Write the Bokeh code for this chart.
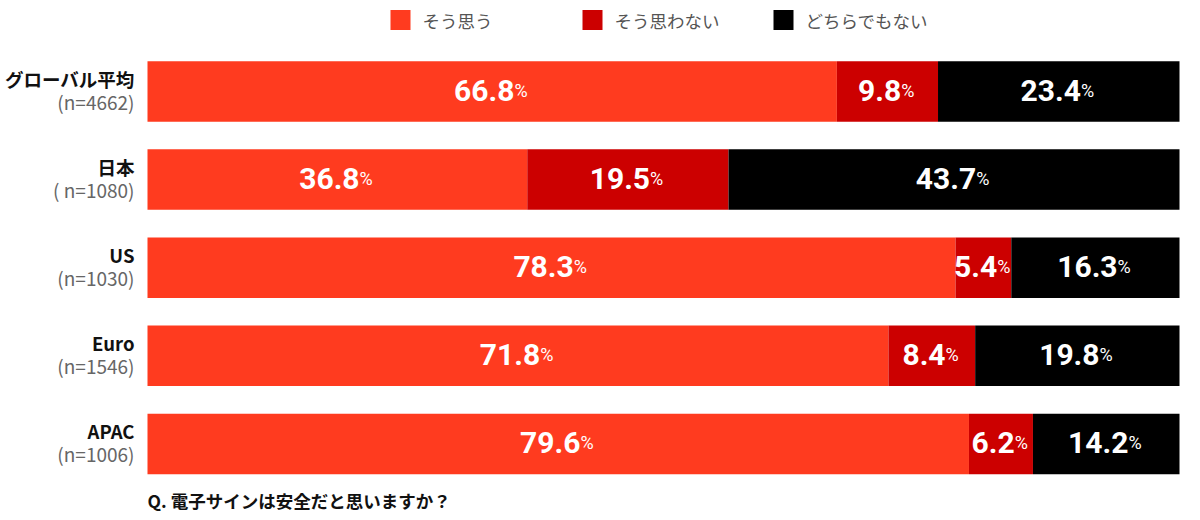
from bokeh.plotting import figure
from bokeh.models import ColumnDataSource, Range1d
from bokeh.core.properties import value
from bokeh.embed import file_html
from bokeh.resources import INLINE

# ---- data ----
regions = ["グローバル平均", "日本", "US", "Euro", "APAC"]
sample_sizes = ["(n=4662)", "( n=1080)", "(n=1030)", "(n=1546)", "(n=1006)"]
agree = [66.8, 36.8, 78.3, 71.8, 79.6]
disagree = [9.8, 19.5, 5.4, 8.4, 6.2]
neutral = [23.4, 43.7, 16.3, 19.8, 14.2]
series_names = ["そう思う", "そう思わない", "どちらでもない"]
series_colors = ["#FF3B1F", "#CC0000", "#000000"]
question = "Q. 電子サインは安全だと思いますか？"

# ---- layout helpers (pixel -> data) ----
W, H = 1200, 520
X0_PX, PX_PER_PCT = 147, 10.32
Y0_PX, PX_PER_ROW = 91, 88.1


def dx(px):
    return px / PX_PER_PCT


def dy(py):
    return py / PX_PER_ROW


def xpx(px):
    return (px - X0_PX) / PX_PER_PCT


def ypx(py):
    return (py - Y0_PX) / PX_PER_ROW


p = figure(width=W, height=H, output_backend="svg", toolbar_location=None,
           x_range=Range1d(xpx(0), xpx(W)), y_range=Range1d(ypx(H), ypx(0)),
           min_border=0)
p.axis.visible = False
p.grid.visible = False
p.outline_line_color = None
p.background_fill_color = "white"
p.border_fill_color = "white"

idx = list(range(len(regions)))
src = ColumnDataSource(dict(idx=idx, agree=agree, disagree=disagree, neutral=neutral))
p.hbar_stack(["agree", "disagree", "neutral"], y="idx", height=dy(60.5), source=src,
             color=series_colors, line_color=None)

# ---- value labels ----
NUM_FS, PCT_FS = 30, 18
PCT_W = 14


def num_width(s):
    return sum(0.26 * NUM_FS if c == "." else 0.562 * NUM_FS for c in s)


num_x, num_y, num_t, pct_x = [], [], [], []
for i in idx:
    left = 0.0
    for v in (agree[i], disagree[i], neutral[i]):
        c = left + v / 2
        s = f"{v:.1f}"
        wn = num_width(s)
        edge = c + dx((wn - PCT_W) / 2)
        num_x.append(edge)
        pct_x.append(edge)
        num_y.append(i - dy(1.5))
        num_t.append(s)
        left += v

lab = ColumnDataSource(dict(x=num_x, y=num_y, t=num_t, px=pct_x, pt=["%"] * len(num_t)))
p.text(x="x", y="y", text="t", source=lab, text_align="right", text_baseline="alphabetic",
       text_color="white", text_font=value("Roboto"), text_font_style="bold",
       text_font_size=f"{NUM_FS}px")
p.text(x="px", y="y", text="pt", source=lab, text_align="left", text_baseline="alphabetic",
       text_color="white", text_font=value("Roboto"), text_font_size=f"{PCT_FS}px")

# ---- category labels ----
cat = ColumnDataSource(dict(x=[xpx(134)] * len(idx), yn=[i - dy(13) for i in idx],
                            ys=[i + dy(10) for i in idx], name=regions, n=sample_sizes))
p.text(x="x", y="yn", text="name", source=cat, text_align="right", text_baseline="middle",
       text_color="#111111", text_font=value("Noto Sans CJK JP"), text_font_style="bold",
       text_font_size="18.5px")
p.text(x="x", y="ys", text="n", source=cat, text_align="right", text_baseline="middle",
       text_color="#666666", text_font=value("Noto Sans CJK JP"), text_font_size="19px")

# ---- legend ----
leg_sq_left = [390, 582, 773]
leg = ColumnDataSource(dict(
    x=[xpx(l + 10) for l in leg_sq_left],
    tx=[xpx(l + 32) for l in leg_sq_left],
    y=[ypx(19.5)] * 3, name=series_names, color=series_colors))
p.rect(x="x", y="y", width=dx(20), height=dy(20), source=leg, fill_color="color",
       line_color=None)
p.text(x="tx", y="y", text="name", source=leg, text_align="left", text_baseline="middle",
       text_color="#555555", text_font=value("Noto Sans CJK JP"), text_font_size="17.5px")

# ---- question ----
p.text(x=[xpx(147)], y=[ypx(500)], text=[question], text_align="left",
       text_baseline="middle", text_color="#111111", text_font=value("Noto Sans CJK JP"),
       text_font_style="bold", text_font_size="17.5px")

open("out.html", "w").write(file_html(p, INLINE))
